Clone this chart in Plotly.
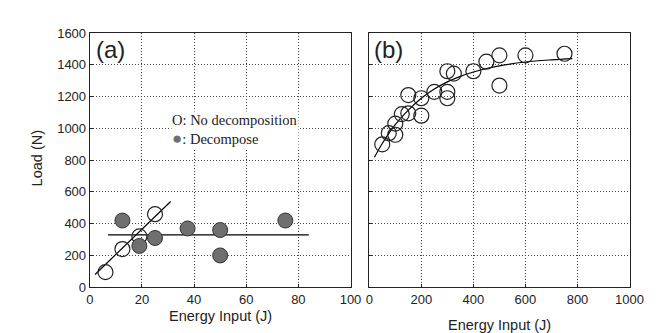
import plotly.graph_objects as go

# Panel (a)
a_open_x = [6, 12.5, 19, 25]
a_open_y = [95, 240, 320, 460]
a_fill_x = [12.5, 19, 25, 37.5, 50, 50, 75]
a_fill_y = [420, 260, 310, 370, 360, 200, 420]
a_fit1_x = [2, 31]
a_fit1_y = [80, 540]
a_fit2_x = [7, 84]
a_fit2_y = [330, 330]

# Panel (b)
b_x = [50, 75, 100, 100, 125, 150, 150, 200, 200, 250, 300, 300, 300, 325, 400, 450, 500, 500, 600, 750]
b_y = [900, 970, 960, 1030, 1090, 1095, 1210, 1080, 1190, 1230, 1230, 1190, 1360, 1345, 1360, 1420, 1460, 1270, 1460, 1470]
b_fit_x = [20, 50, 100, 150, 200, 250, 300, 350, 400, 450, 500, 600, 700, 780]
b_fit_y = [818, 905, 1024, 1115, 1190, 1248, 1293, 1328, 1355, 1377, 1394, 1418, 1432, 1440]

x_ticks_a = [0, 20, 40, 60, 80, 100]
x_ticks_b = [0, 200, 400, 600, 800, 1000]
y_ticks = [0, 200, 400, 600, 800, 1000, 1200, 1400, 1600]

legend_labels = ["No decomposition", "Decompose"]

fig = go.Figure()
line_style = dict(color="black", width=1.2)
fig.add_trace(go.Scatter(x=a_fit1_x, y=a_fit1_y, mode="lines", line=line_style, showlegend=False, xaxis="x", yaxis="y"))
fig.add_trace(go.Scatter(x=a_fit2_x, y=a_fit2_y, mode="lines", line=line_style, showlegend=False, xaxis="x", yaxis="y"))
fig.add_trace(go.Scatter(x=a_open_x, y=a_open_y, mode="markers", showlegend=False,
                         marker=dict(symbol="circle-open", size=15, color="#222", line=dict(width=1.2)),
                         xaxis="x", yaxis="y"))
fig.add_trace(go.Scatter(x=a_fill_x, y=a_fill_y, mode="markers", showlegend=False,
                         marker=dict(symbol="circle", size=15, color="#6f6f6f", line=dict(color="#333", width=1)),
                         xaxis="x", yaxis="y"))
fig.add_trace(go.Scatter(x=b_fit_x, y=b_fit_y, mode="lines", line=dict(color="black", width=1.2, shape="spline"),
                         showlegend=False, xaxis="x2", yaxis="y2"))
fig.add_trace(go.Scatter(x=b_x, y=b_y, mode="markers", showlegend=False,
                         marker=dict(symbol="circle-open", size=15, color="#222", line=dict(width=1.2)),
                         xaxis="x2", yaxis="y2"))

axis_common = dict(showline=True, linecolor="#222", linewidth=1.3, mirror=True,
                   showgrid=True, gridcolor="#444", griddash="1px,2px", gridwidth=1,
                   zeroline=False, ticks="inside", ticklen=3, tickcolor="#222",
                   tickfont=dict(family="Liberation Sans, Arial", size=13, color="#222"))

serif = dict(family="Liberation Serif, Times New Roman", size=14.5, color="#222")
sans = dict(family="Liberation Sans, Arial", size=14.5, color="#222")

legend_text = ("O: " + legend_labels[0] + "<br>"
               + "<span style='color:#6f6f6f;font-size:17px'>●</span>: " + legend_labels[1])

fig.update_layout(
    width=664, height=333,
    margin=dict(l=0, r=0, t=0, b=0),
    paper_bgcolor="white", plot_bgcolor="white",
    showlegend=False,
    xaxis=dict(domain=[0.1205, 0.524], range=[0, 100], tickvals=x_ticks_a, anchor="y", **axis_common),
    yaxis=dict(domain=[0.144, 0.943], range=[0, 1600], tickvals=y_ticks, anchor="x", **axis_common),
    xaxis2=dict(domain=[0.553, 0.956], range=[0, 1000], tickvals=x_ticks_b, anchor="y2", **axis_common),
    yaxis2=dict(domain=[0.144, 0.943], range=[0, 1600], tickvals=y_ticks, anchor="x2", showticklabels=False,
                **{k: v for k, v in axis_common.items() if k != "tickfont"}),
    annotations=[
        dict(text=legend_text, x=163 / 664, y=1 - 120 / 333, xref="paper", yref="paper",
             xanchor="left", yanchor="middle", align="left", showarrow=False, font=serif,
             bgcolor="white", borderpad=0),
        dict(text="(a)", x=0.127, y=0.94, xref="paper", yref="paper", xanchor="left", yanchor="top",
             showarrow=False, font=dict(family="Liberation Sans, Arial", size=24, color="#222")),
        dict(text="(b)", x=0.558, y=0.94, xref="paper", yref="paper", xanchor="left", yanchor="top",
             showarrow=False, font=dict(family="Liberation Sans, Arial", size=24, color="#222")),
        dict(text="Energy Input (J)", x=0.322, y=1 - 315 / 333, xref="paper", yref="paper",
             xanchor="center", yanchor="middle", showarrow=False, font=sans),
        dict(text="Energy Input (J)", x=0.754, y=1 - 325 / 333, xref="paper", yref="paper",
             xanchor="center", yanchor="middle", showarrow=False, font=sans),
        dict(text="Load (N)", x=26 / 664, y=0.55, xref="paper", yref="paper", textangle=-90,
             xanchor="center", yanchor="middle", showarrow=False, font=sans),
    ],
)

fig.write_html("out.html")
